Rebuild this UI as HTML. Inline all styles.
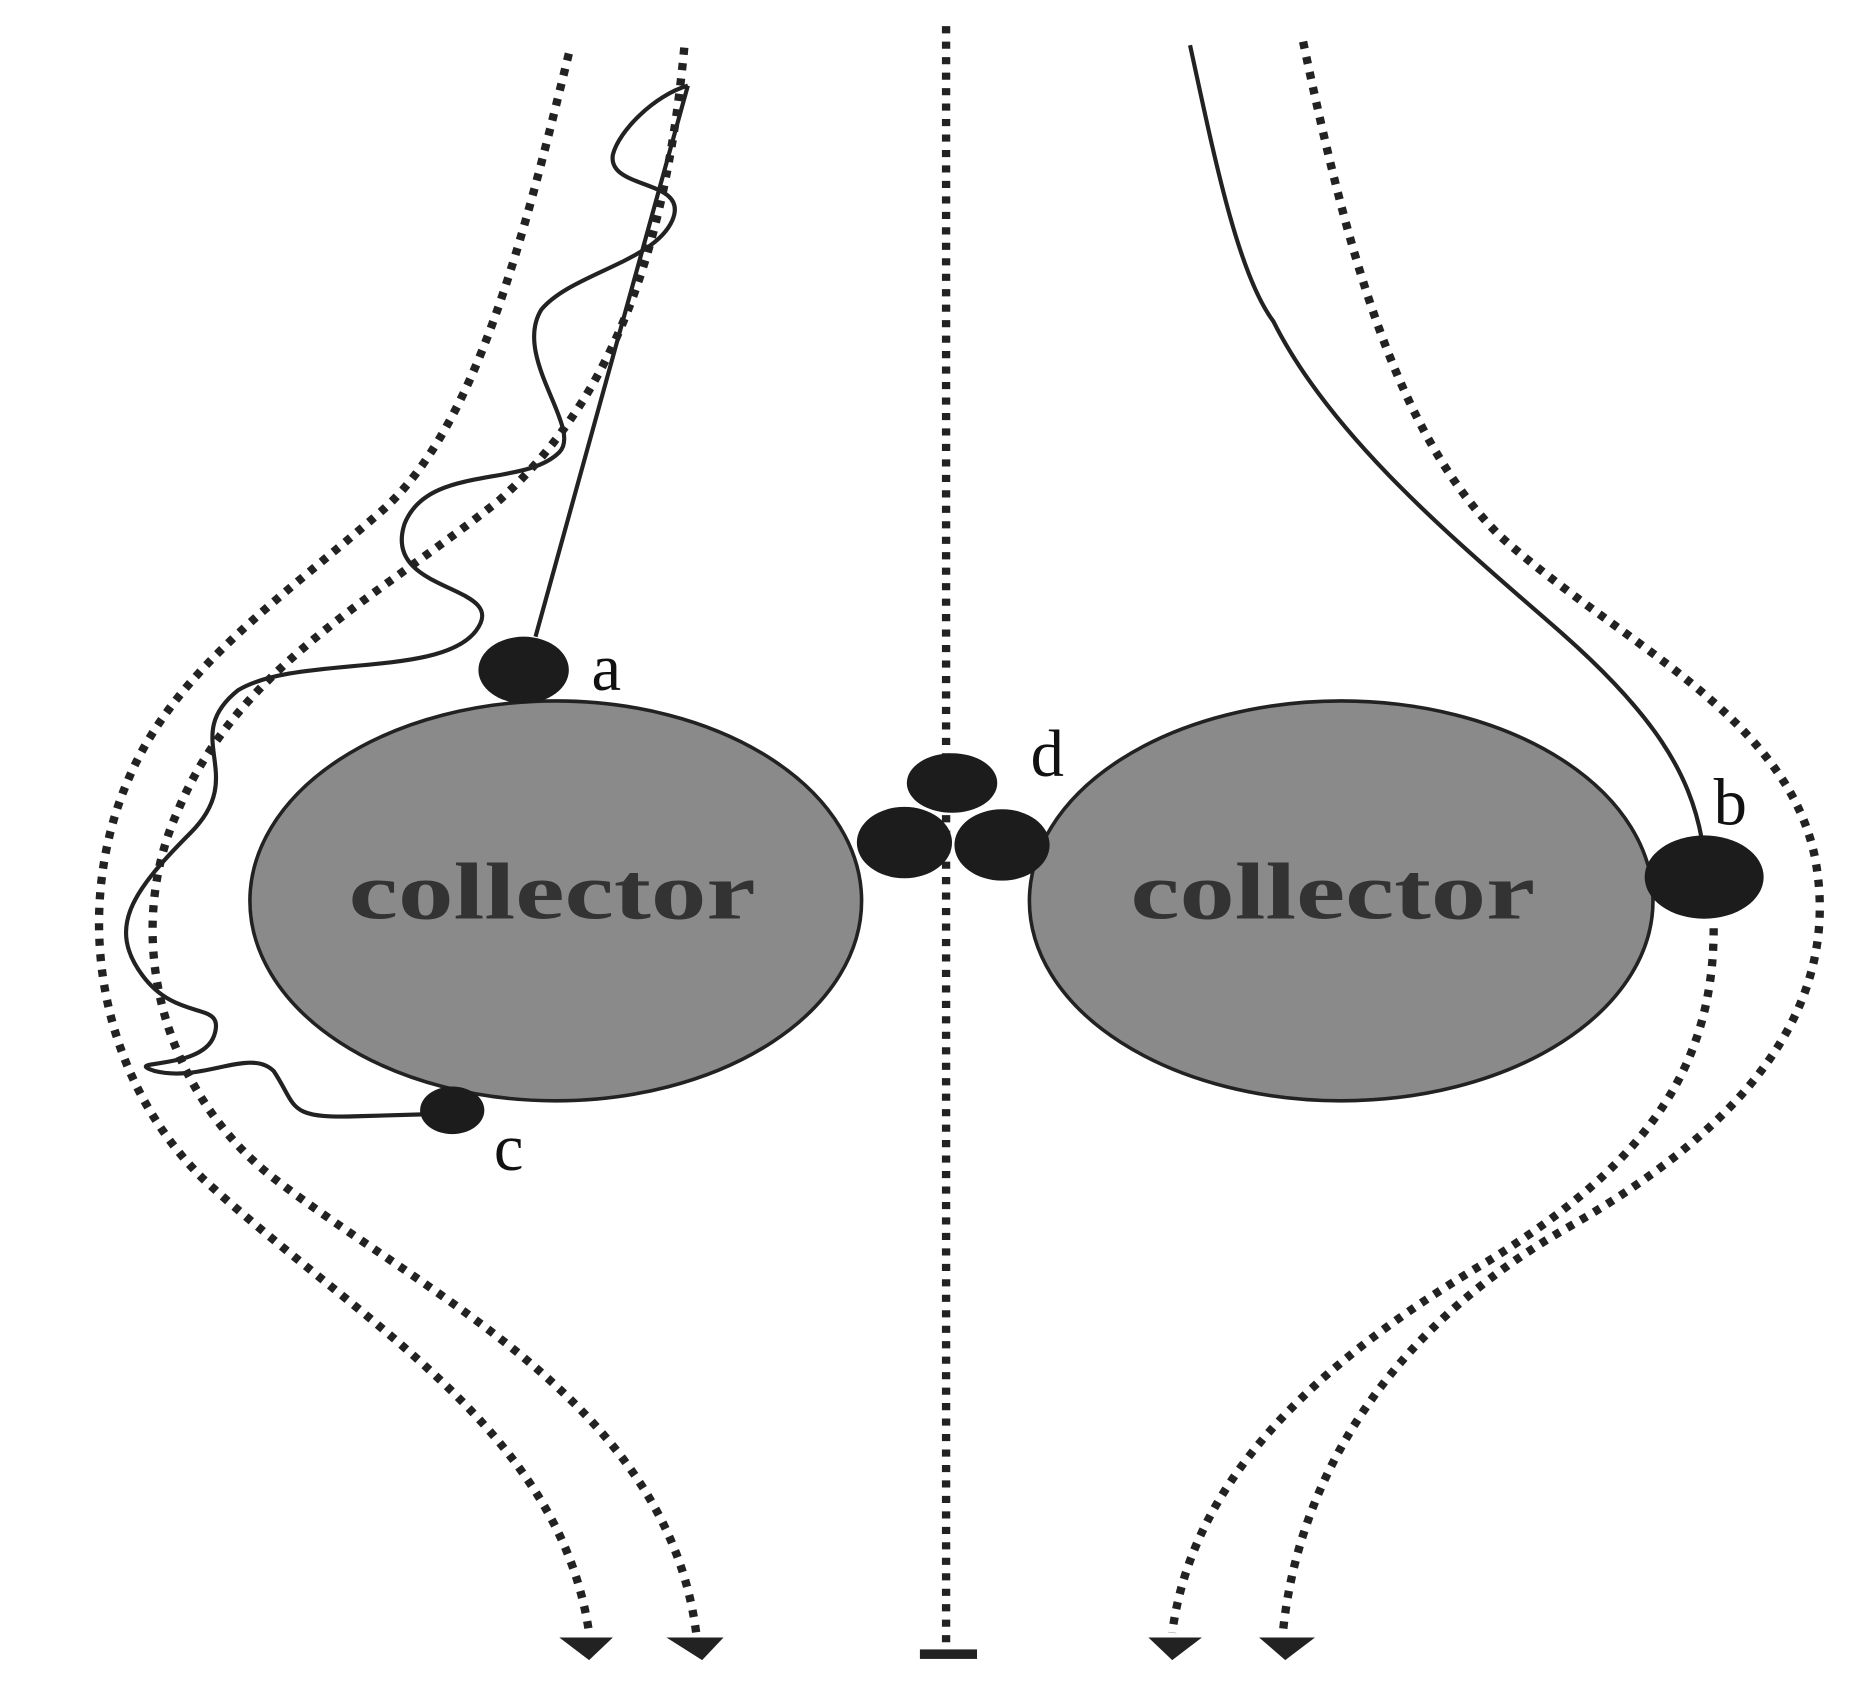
<!DOCTYPE html>
<html><head><meta charset="utf-8"><style>html,body{margin:0;padding:0;background:#fff}svg{display:block}</style></head>
<body>
<svg width="1866" height="1697" viewBox="0 0 1568 1426" preserveAspectRatio="none" xmlns="http://www.w3.org/2000/svg">
<g fill="none" stroke="#222" stroke-width="7" stroke-dasharray="6 7">
<path d="M795 22 L795 1388"/>
<path d="M478 45 C440 200 400 360 320 430 C240 500 150 560 110 650 C60 760 80 900 170 990 C300 1110 470 1200 495 1372"/>
<path d="M575 40 C560 200 520 330 420 420 C320 500 200 560 150 680 C100 790 140 920 230 990 C360 1090 560 1180 585 1372"/>
<path d="M1095 35 C1130 200 1170 360 1260 450 C1360 540 1500 600 1525 720 C1550 850 1460 950 1320 1030 C1160 1120 1090 1250 1078 1372"/>
<path d="M1440 780 C1440 900 1380 980 1250 1060 C1080 1160 1000 1260 985 1372"/>
</g>
<g fill="#222">
<polygon points="470,1376 515,1376 495,1395"/>
<polygon points="560,1376 608,1376 590,1395"/>
<polygon points="965,1376 1010,1376 985,1395"/>
<polygon points="1058,1376 1105,1376 1080,1395"/>
<rect x="773" y="1386" width="48" height="8"/>
</g>
<g fill="none" stroke="#222" stroke-width="3.5">
<path d="M450 535 L578 72"/>
<path d="M1000 38 C1020 130 1040 230 1070 270 C1120 370 1230 460 1310 530 C1390 600 1420 650 1430 705"/>
<path d="M578 72 C550 80 520 110 515 130 C510 160 580 150 565 185 C550 220 480 230 455 260 C430 300 490 360 470 380 C440 410 360 390 340 440 C320 500 430 490 400 530 C370 570 250 550 200 580 C150 620 210 650 160 700 C110 750 90 780 120 820 C150 860 190 840 180 870 C170 900 100 890 130 900 C170 910 210 880 230 900 C250 930 240 940 300 938 L370 936"/>
</g>
<ellipse cx="467" cy="757" rx="257" ry="168" fill="#8a8a8a" stroke="#222" stroke-width="3"/>
<ellipse cx="1127" cy="757" rx="262" ry="168" fill="#8a8a8a" stroke="#222" stroke-width="3"/>
<g fill="#1c1c1c">
<ellipse cx="440" cy="563" rx="38" ry="28"/>
<ellipse cx="380" cy="933" rx="27" ry="20"/>
<ellipse cx="1432" cy="737" rx="50" ry="35"/>
<ellipse cx="800" cy="658" rx="38" ry="25"/>
<ellipse cx="760" cy="708" rx="40" ry="30"/>
<ellipse cx="842" cy="710" rx="40" ry="30"/>
</g>
<g font-family="Liberation Serif, serif" font-weight="bold" fill="#333" font-size="68">
<text x="293" y="772" textLength="342" lengthAdjust="spacingAndGlyphs">collector</text>
<text x="950" y="772" textLength="340" lengthAdjust="spacingAndGlyphs">collector</text>
</g>
<g font-family="Liberation Serif, serif" fill="#111" font-size="56">
<text x="497" y="580">a</text>
<text x="1440" y="693">b</text>
<text x="415" y="983">c</text>
<text x="866" y="652">d</text>
</g>
</svg>
</body></html>
